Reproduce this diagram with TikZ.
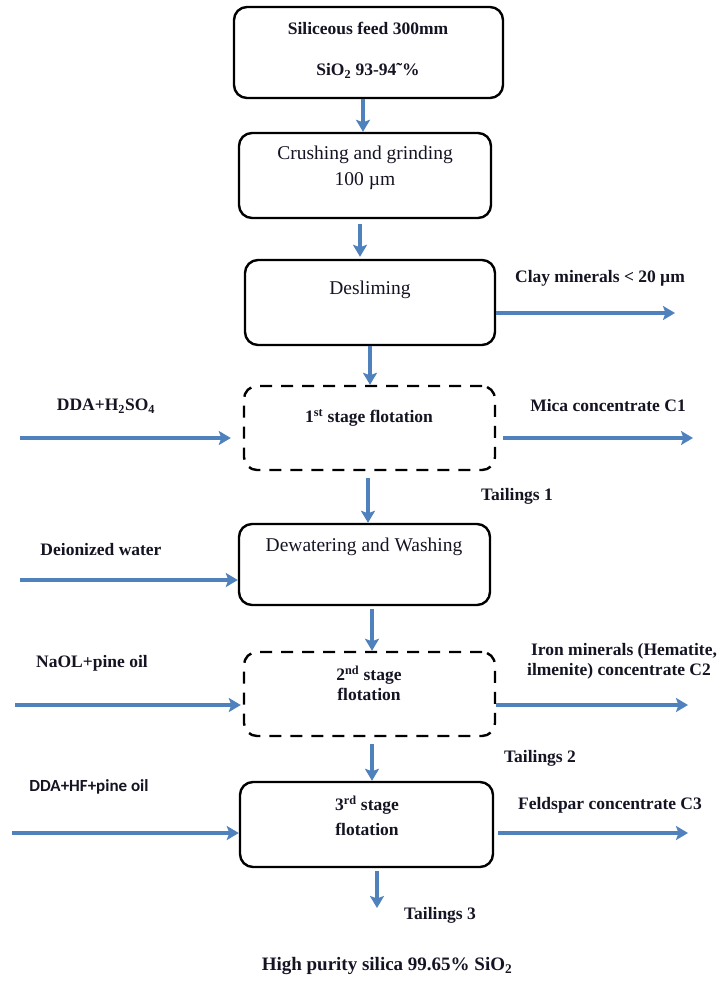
\documentclass[tikz,border=0pt]{standalone}
\usepackage{fontspec}
\setmainfont{Liberation Serif}
\newfontfamily\calib{Carlito}
\usetikzlibrary{arrows.meta,calc}
\definecolor{arrblue}{RGB}{79,129,189}
\definecolor{txtc}{RGB}{20,20,35}
\begin{document}
\begin{tikzpicture}[x=1pt,y=-1pt,
  proc/.style={draw=black,line width=2.4pt,rounded corners=13pt,inner sep=0pt},
  dproc/.style={proc,dash pattern=on 12pt off 9pt},
  arr/.style={draw=arrblue,line width=3.2pt,-{Stealth[length=12pt,width=14pt,inset=2.5pt]}},
  lbl/.style={font=\fontsize{17.5}{20}\selectfont\bfseries,text=txtc,inner sep=0pt,text height=1.5ex,text depth=.25ex},
  rtxt/.style={font=\fontsize{19.5}{26}\selectfont,text=txtc,inner sep=0pt,text height=1.5ex,text depth=.25ex}]
\useasboundingbox (0,0) rectangle (723,989);

% boxes
\node[proc,minimum width=269pt,minimum height=91pt] (b1) at (368.5,52.5) {};
\node[proc,minimum width=252pt,minimum height=85pt] (b2) at (365,175.5) {};
\node[proc,minimum width=250pt,minimum height=85pt] (b3) at (370,302.5) {};
\node[dproc,minimum width=251pt,minimum height=84pt] (b4) at (369.5,428) {};
\node[proc,minimum width=251pt,minimum height=81pt] (b5) at (364.5,564.5) {};
\node[dproc,minimum width=251pt,minimum height=84pt] (b6) at (369.5,694) {};
\node[proc,minimum width=253pt,minimum height=85pt] (b7) at (366.5,824.5) {};

% box texts
\node[lbl] (t1a) at (368,32) {Siliceous feed 300mm};
\node[lbl] (t1b) at (368,73) {SiO\textsubscript{2} 93-94˜\%};
\node[rtxt] (t2a) at (365,157) {Crushing and grinding};
\node[rtxt] (t2b) at (365,183) {100 µm};
\node[rtxt] (t3) at (370,292) {Desliming};
\node[lbl] (t4) at (369,420) {1\textsuperscript{st} stage flotation};
\node[rtxt] (t5) at (364,549) {Dewatering and Washing};
\node[lbl] (t6a) at (369,678) {2\textsuperscript{nd} stage};
\node[lbl] (t6b) at (369,698) {flotation};
\node[lbl] (t7a) at (367,808) {3\textsuperscript{rd} stage};
\node[lbl] (t7b) at (367,833) {flotation};

% vertical arrows
\coordinate (e7) at (377,908);
\draw[arr] ([xshift=-5.5pt]b1.south) -- ([xshift=-5.5pt]b1.south |- b2.north);
\draw[arr] ($(b2.south)+(-5,5)$) -- ($(b2.south |- b3.north)+(-5,-2)$);
\draw[arr] (b3.south) -- (b3.south |- b4.north);
\draw[arr] ($(b4.south)+(-1.5,7)$) -- ($(b4.south |- b5.north)+(-1.5,0)$);
\draw[arr] ($(b5.south)+(7.5,3)$) -- ($(b5.south |- b6.north)+(7.5,0)$);
\draw[arr] ($(b6.south)+(2.5,7)$) -- ($(b6.south |- b7.north)+(2.5,0)$);
\draw[arr] ($(b7.south -| e7)+(0,3)$) -- (e7);

% side arrows
\coordinate (clayEnd) at (675,313);
\coordinate (ddaStart) at (20,438);
\coordinate (micaEnd) at (693,438);
\coordinate (diStart) at (20,580);
\coordinate (naStart) at (15,705);
\coordinate (ironEnd) at (688,705);
\coordinate (hfStart) at (12,833);
\coordinate (feldEnd) at (688,833);
\draw[arr] (b3.east |- clayEnd) -- (clayEnd);
\draw[arr] (ddaStart) -- ($(ddaStart -| b4.west)+(-12,0)$);
\draw[arr] ($(b4.east |- micaEnd)+(7,0)$) -- (micaEnd);
\draw[arr] (diStart) -- (diStart -| b5.west);
\draw[arr] (naStart) -- ($(naStart -| b6.west)+(-2,0)$);
\draw[arr] (b6.east |- ironEnd) -- (ironEnd);
\draw[arr] (hfStart) -- (hfStart -| b7.west);
\draw[arr] ($(b7.east |- feldEnd)+(4,0)$) -- (feldEnd);

% labels
\node[lbl] (lclay) at (600,280) {Clay minerals < 20 µm};
\node[lbl] (ldda) at (106,408) {DDA+H\textsubscript{2}SO\textsubscript{4}};
\node[lbl] (lmica) at (608,409) {Mica concentrate C1};
\node[lbl] (ltail1) at (517,498) {Tailings 1};
\node[lbl] (ldi) at (101,553) {Deionized water};
\node[lbl] (lnaol) at (92,665) {NaOL+pine oil};
\node[lbl] (lirona) at (624,653) {Iron minerals (Hematite,};
\node[lbl] (lironb) at (619,673) {ilmenite) concentrate C2};
\node[lbl] (ltail2) at (540,760) {Tailings 2};
\node[lbl,font=\calib\fontsize{17}{20}\selectfont\bfseries] (lhf) at (89,789) {DDA+HF+pine oil};
\node[lbl] (lfeld) at (610,807) {Feldspar concentrate C3};
\node[lbl] (ltail3) at (440,917) {Tailings 3};
\node[lbl,font=\fontsize{19}{22}\selectfont\bfseries] (lhp) at (387,968) {High purity silica 99.65\% SiO\textsubscript{2}};
\end{tikzpicture}
\end{document}
